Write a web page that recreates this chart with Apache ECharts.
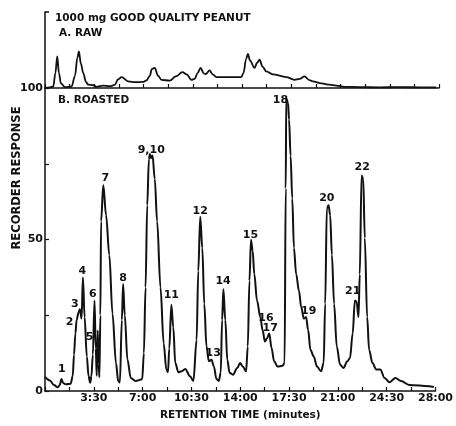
<!DOCTYPE html>
<html>
<head>
<meta charset="utf-8">
<script src="https://cdn.jsdelivr.net/npm/echarts@6/dist/echarts.min.js"></script>
<style>
  html, body { margin: 0; padding: 0; background: #fff; }
  #chart { width: 456px; height: 426px; }
</style>
</head>
<body>
<div id="chart"></div>
<script>
// Retention time (minutes) and recorder response for the roasted sample
const roastedTime = [
  0.00, 0.35, 0.64, 0.92, 1.06, 1.18, 1.30, 1.49, 1.84, 1.99, 2.08, 2.18, 2.27, 2.41, 2.50, 2.62,
  2.72, 2.84, 3.00, 3.12, 3.24, 3.33, 3.43, 3.55, 3.64, 3.71, 3.78, 3.85, 3.90, 3.97, 4.02, 4.18,
  4.38, 4.61, 4.84, 5.09, 5.25, 5.37, 5.51, 5.60, 5.72, 5.91, 6.15, 6.50, 6.97, 7.09, 7.21, 7.33,
  7.45, 7.52, 7.61, 7.71, 7.87, 8.04, 8.28, 8.51, 8.70, 8.82, 8.91, 9.06, 9.20, 9.34, 9.57, 9.79,
  10.05, 10.40, 10.64, 10.87, 10.99, 11.13, 11.28, 11.42, 11.58, 11.75, 11.94, 12.11, 12.29, 12.46,
  12.60, 12.70, 12.79, 12.93, 13.07, 13.24, 13.48, 13.78, 13.99, 14.18, 14.42, 14.54, 14.66, 14.77,
  14.89, 15.01, 15.20, 15.44, 15.60, 15.77, 15.91, 16.08, 16.24, 16.43, 16.67, 17.02, 17.18, 17.26,
  17.30, 17.43, 17.50, 17.61, 17.73, 17.85, 18.01, 18.21, 18.37, 18.56, 18.72, 18.87, 19.03, 19.27,
  19.50, 19.79, 19.98, 20.09, 20.21, 20.33, 20.45, 20.57, 20.73, 20.92, 21.16, 21.40, 21.68, 21.87,
  22.06, 22.22, 22.34, 22.48, 22.57, 22.70, 22.82, 22.93, 23.10, 23.24, 23.48, 23.76, 24.04, 24.35,
  24.70, 25.13, 25.53, 26.12, 27.54, 27.89
];
const roastedResponse = [
  4.6, 3.5, 2.0, 1.2, 2.0, 4.0, 2.6, 2.2, 2.4, 5.0, 12.0, 19.0, 23.5, 26.0, 27.0, 23.9,
  37.5, 24.4, 11.4, 5.0, 2.7, 5.0, 12.0, 29.9, 14.0, 5.0, 20.0, 9.0, 4.5, 25.0, 56.0, 67.9,
  58.0, 45.0, 25.5, 9.2, 3.3, 2.8, 23.4, 35.3, 25.0, 10.4, 4.3, 3.3, 3.9, 12.5, 34.2, 61.3,
  76.5, 78.2, 76.8, 77.7, 70.0, 56.0, 34.2, 15.7, 7.1, 6.2, 14.0, 28.5, 21.0, 9.2, 6.2, 6.5,
  7.3, 4.9, 3.3, 16.8, 39.6, 57.5, 47.2, 28.8, 14.7, 9.8, 10.3, 8.1, 4.0, 3.3,
  6.0, 23.4, 33.6, 23.4, 10.3, 6.0, 5.4, 7.6, 9.2, 8.1, 6.5, 14.7, 36.4, 49.9,
  46.2, 38.5, 29.9, 24.4, 20.1, 16.3, 17.3, 19.0, 14.3, 9.8, 8.1, 8.3, 9.2, 66.8,
  96.6, 95.0, 89.6, 77.6, 63.5, 47.2, 38.5, 33.1, 27.7, 23.9, 24.4, 20.1, 13.6, 11.4,
  8.1, 6.5, 9.2, 28.8, 60.3, 61.3, 58.0, 45.0, 28.8, 14.7, 8.7, 7.6, 9.8, 10.9,
  19.0, 29.9, 29.5, 24.4, 38.5, 71.1, 70.0, 50.5, 24.4, 13.6, 9.2, 7.1, 7.1, 4.3,
  2.9, 4.3, 3.3, 2.0, 1.6, 1.3
];

// Raw sample, plotted above the 100 line
const rawTime = [
  0.00, 0.35, 0.59, 0.74, 0.87, 0.99, 1.13, 1.42, 1.89, 2.13, 2.30, 2.41, 2.55, 2.72, 2.91, 3.07,
  3.43, 3.67, 4.11, 4.61, 4.96, 5.18, 5.44, 5.91, 6.45, 6.97, 7.21, 7.45, 7.59, 7.80, 8.04, 8.28,
  8.87, 9.29, 9.77, 10.07, 10.40, 10.64, 10.85, 11.06, 11.28, 11.42, 11.70, 11.91, 12.18, 13.12,
  13.95, 14.11, 14.29, 14.42, 14.57, 14.89, 15.07, 15.25, 15.46, 15.72, 16.19, 17.14, 17.73, 18.09,
  18.44, 18.79, 19.03, 19.65, 20.21, 20.69, 21.28, 22.34, 23.76, 25.18, 26.60, 27.80
];
const rawResponse = [
  0.0, 0.2, 0.5, 5.0, 10.4, 5.0, 1.5, 0.3, 0.5, 4.0, 10.0, 12.0, 8.0, 4.9, 2.0, 1.1,
  0.9, 0.4, 0.8, 0.6, 1.0, 2.8, 3.6, 2.2, 1.9, 2.0, 2.5, 4.0, 6.2, 6.6, 4.0, 2.7,
  2.4, 3.8, 5.2, 4.5, 2.7, 3.0, 5.0, 6.6, 4.8, 4.6, 5.8, 4.5, 3.6, 3.6,
  3.6, 5.0, 9.5, 11.2, 9.0, 6.6, 8.3, 9.3, 7.0, 5.5, 4.5, 3.6, 2.7, 3.0,
  3.8, 2.6, 2.2, 1.5, 1.1, 0.8, 0.4, 0.3, 0.2, 0.3, 0.2, 0.2
];

// Peak numbers and where their labels sit (time, response)
const peakNames = ['1', '2', '3', '4', '5', '6', '7', '8', '9,10', '11', '12',
  '13', '14', '15', '16', '17', '18', '19', '20', '21', '22'];
const peakLabelTime = [1.21, 1.77, 2.13, 2.67, 3.19, 3.43, 4.33, 5.60, 7.62, 9.06, 11.13,
  12.06, 12.77, 14.73, 15.84, 16.15, 16.88, 18.91, 20.21, 22.06, 22.74];
const peakLabelLevel = [7.2, 22.8, 28.8, 39.6, 17.9, 32.0, 70.3, 37.2, 79.5, 31.8, 59.4,
  12.5, 36.1, 51.6, 23.9, 20.6, 96.1, 26.4, 63.5, 33.1, 73.8];

// Axis tick labels
const timeTickLabels = ['3:30', '7:00', '10:30', '14:00', '17:30', '21:00', '24:30', '28:00'];
const responseTickLabels = { 0: '0', 50: '50', 100: '100' };

const FONT = '"DejaVu Sans", Verdana, sans-serif';
const INK = '#111';

const pair = (xs, ys) => xs.map((x, i) => [x, ys[i]]);

const chart = echarts.init(document.getElementById('chart'), null, { renderer: 'canvas' });

const commonX = {
  type: 'value', min: 0, max: 28, interval: 1.75,
  axisLine: { show: true, lineStyle: { color: INK, width: 1.5 } },
  axisTick: { show: true, inside: true, length: 4, lineStyle: { color: INK, width: 1.2 } },
  splitLine: { show: false }
};

const headStyle = size => ({ fontFamily: FONT, fontWeight: 'bold', fontSize: size, color: INK });

chart.setOption({
  animation: false,
  backgroundColor: '#fff',
  title: [
    { text: '1000 mg GOOD QUALITY PEANUT', left: 50, top: 8, textStyle: headStyle(10.5) },
    { text: 'A. RAW', left: 54, top: 23, textStyle: headStyle(10.5) },
    { text: 'B. ROASTED', left: 53, top: 90, textStyle: headStyle(10.5) }
  ],
  graphic: [{
    type: 'text', x: 17, y: 178, rotation: Math.PI / 2,
    style: { text: 'RECORDER RESPONSE', align: 'center', verticalAlign: 'middle',
      font: 'bold 11.5px ' + FONT, fill: INK }
  }],
  grid: [
    { left: 45, right: 17, top: 12, height: 76 },
    { left: 45, right: 17, top: 88, bottom: 31 }
  ],
  xAxis: [
    Object.assign({}, commonX, { gridIndex: 0, axisLabel: { show: false } }),
    Object.assign({}, commonX, {
      gridIndex: 1,
      name: 'RETENTION TIME (minutes)', nameLocation: 'middle', nameGap: 19,
      nameTextStyle: headStyle(10.5),
      axisLabel: {
        margin: 2, fontFamily: FONT, fontWeight: 'bold', fontSize: 11, color: INK,
        formatter: v => {
          const k = Math.round(v / 3.5);
          if (k < 1 || Math.abs(v - k * 3.5) > 1e-6) return '';
          return timeTickLabels[k - 1];
        }
      }
    })
  ],
  yAxis: [
    { type: 'value', gridIndex: 0, min: 0, max: 25, interval: 25,
      axisLine: { show: true, lineStyle: { color: INK, width: 1.5 } },
      axisTick: { show: true, inside: true, length: 4, lineStyle: { color: INK, width: 1.5 } },
      axisLabel: { show: false }, splitLine: { show: false } },
    { type: 'value', gridIndex: 1, min: 0, max: 100, interval: 25,
      axisLine: { show: true, lineStyle: { color: INK, width: 1.5 } },
      axisTick: { show: true, inside: true, length: 4, lineStyle: { color: INK, width: 1.2 } },
      axisLabel: {
        margin: 2, fontFamily: FONT, fontWeight: 'bold', fontSize: 11, color: INK,
        formatter: v => responseTickLabels[v] || ''
      },
      splitLine: { show: false } }
  ],
  series: [
    { type: 'line', xAxisIndex: 0, yAxisIndex: 0, data: pair(rawTime, rawResponse),
      showSymbol: false, smooth: 0.35, smoothMonotone: 'x',
      lineStyle: { color: INK, width: 1.8 } },
    { type: 'line', xAxisIndex: 1, yAxisIndex: 1, data: pair(roastedTime, roastedResponse),
      showSymbol: false, smooth: 0.35, smoothMonotone: 'x',
      lineStyle: { color: INK, width: 2 } },
    { type: 'scatter', xAxisIndex: 1, yAxisIndex: 1, symbolSize: 0, silent: true, z: 5,
      itemStyle: { opacity: 1, color: INK },
      data: peakNames.map((n, i) => ({ value: [peakLabelTime[i], peakLabelLevel[i]], name: n })),
      label: { show: true, position: 'inside', formatter: p => p.name, opacity: 1,
        textBorderWidth: 0, textBorderColor: 'transparent',
        fontFamily: FONT, fontWeight: 'bold', fontSize: 11, color: INK } }
  ]
});
</script>
</body>
</html>
